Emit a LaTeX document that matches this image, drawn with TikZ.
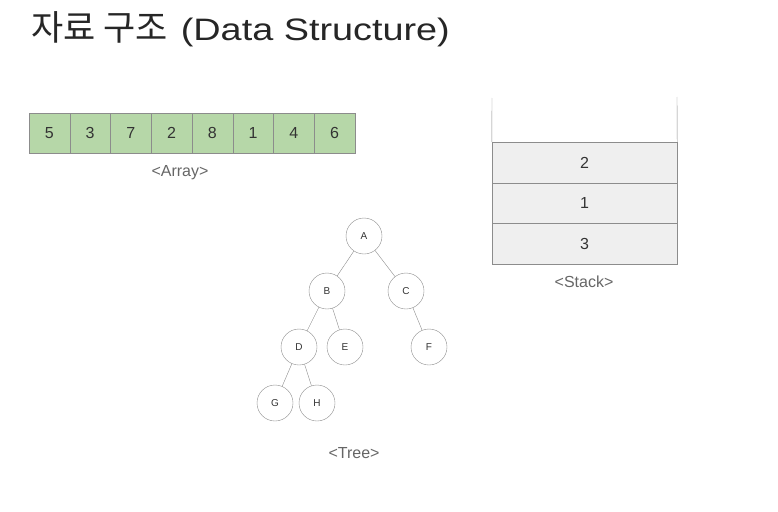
\documentclass[tikz,border=0pt]{standalone}
\usepackage{fontspec}
\setmainfont{Liberation Sans}
\newfontfamily\krfont{Noto Sans CJK KR}
\newfontfamily\titlefont[FakeStretch=1.22]{Liberation Sans}
\usetikzlibrary{positioning}
\definecolor{cellgreen}{HTML}{B6D7A8}
\definecolor{cellgray}{HTML}{EFEFEF}
\definecolor{linegray}{HTML}{8C8C8C}
\definecolor{labelgray}{HTML}{666666}
\tikzset{
  arrcell/.style={draw=linegray, fill=cellgreen, minimum width=40.75pt, minimum height=40pt, inner sep=0pt, font=\fontsize{16}{16}\selectfont, text=black!80},
  stkcell/.style={draw=linegray, fill=cellgray, minimum width=185pt, minimum height=40.5pt, inner sep=0pt, font=\fontsize{16}{16}\selectfont, text=black!80},
  treenode/.style={circle, draw=linegray, minimum size=36pt, inner sep=0pt, font=\fontsize{10}{10}\selectfont, text=black!80},
  caption/.style={text=labelgray, font=\fontsize{16}{16}\selectfont}
}

\begin{document}
\begin{tikzpicture}[x=1pt,y=-1pt]
\useasboundingbox (0,0) rectangle (778,511);
\node[anchor=base west, inner sep=0pt, text=black!85] (title) at (31,41) {{\krfont\fontsize{35}{35}\selectfont 자료 구조}\hspace{13pt}{\titlefont\fontsize{31}{31}\selectfont (Data Structure)}};

% array
\foreach \v [count=\i] in {5,3,7,2,8,1,4,6}
  \node[arrcell] (a\i) at (29+40.75*\i-20.375,133) {\v};
\node[caption] (arrlabel) at (180,173) {<Array>};

% stack
\node[stkcell] (s1) at (584.5,162.5) {2};
\node[stkcell] (s2) at (584.5,203) {1};
\node[stkcell] (s3) at (584.5,243.5) {3};
\coordinate (wl) at (492,98);
\coordinate (wr) at (677,97);
\draw[linegray] (wl) -- (s1.north west);
\draw[linegray] (wr) -- (s1.north east);
\node[caption] (stklabel) at (584,282) {<Stack>};

% tree
\node[treenode] (A) at (364,236) {A};
\node[treenode] (B) at (327,291) {B};
\node[treenode] (C) at (406,291) {C};
\node[treenode] (D) at (299,347) {D};
\node[treenode] (E) at (345,347) {E};
\node[treenode] (F) at (429,347) {F};
\node[treenode] (G) at (275,403) {G};
\node[treenode] (H) at (317,403) {H};
\draw[linegray] (A) -- (B);
\draw[linegray] (A) -- (C);
\draw[linegray] (B) -- (D);
\draw[linegray] (B) -- (E);
\draw[linegray] (C) -- (F);
\draw[linegray] (D) -- (G);
\draw[linegray] (D) -- (H);
\node[caption] (treelabel) at (354,453) {<Tree>};
\end{tikzpicture}
\end{document}
